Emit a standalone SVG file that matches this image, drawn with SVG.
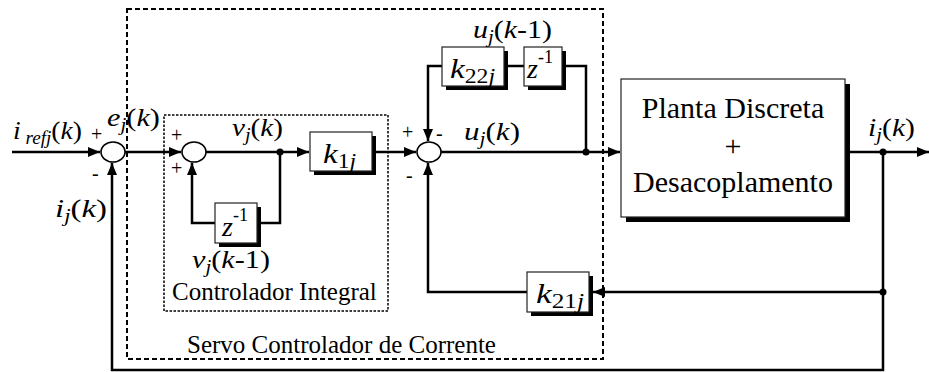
<svg xmlns="http://www.w3.org/2000/svg" width="929" height="372" viewBox="0 0 929 372">
<defs>
<style>
text{font-family:"Liberation Serif","Times New Roman",serif;fill:#000}
.lbl{font-size:26px}
.it{font-style:italic}
.sub{font-size:18px}
.sign{font-size:20px}
.cap{font-size:25px}
.plant{font-size:30px}
.wire{fill:none;stroke:#000;stroke-width:2.5}
.box{fill:#fff;stroke:#222;stroke-width:1.2}
.shadow{fill:#000}
.sum{fill:#fff;stroke:#000;stroke-width:1.6}
.dot{fill:#000}
</style>
<marker id="arr" viewBox="0 0 12 10" refX="12" refY="5" markerWidth="12" markerHeight="10" markerUnits="userSpaceOnUse" orient="auto">
<path d="M0,0 L12,5 L0,10 z" fill="#000"/>
</marker>
</defs>
<rect width="929" height="372" fill="#fff"/>

<g id="servo-frame">
<rect x="127" y="9" width="476" height="350" fill="none" stroke="#000" stroke-width="2" stroke-dasharray="5,3"/>
<text class="cap" x="187" y="353">Servo Controlador de Corrente</text>
</g>
<g id="integral-frame">
<rect x="164" y="115" width="224" height="196" fill="none" stroke="#000" stroke-width="1.5" stroke-dasharray="2.5,1.5"/>
<text class="cap" x="172" y="300">Controlador Integral</text>
</g>

<g id="connectors">
<path class="wire" d="M12,152 H100" marker-end="url(#arr)"/>
<path class="wire" d="M125,152 H181" marker-end="url(#arr)"/>
<path class="wire" d="M206,152 H309" marker-end="url(#arr)"/>
<path class="wire" d="M280,152 V223 H259"/>
<path class="wire" d="M215,223 H192 V163" marker-end="url(#arr)"/>
<path class="wire" d="M376,152 H416" marker-end="url(#arr)"/>
<path class="wire" d="M441,152 H620" marker-end="url(#arr)"/>
<path class="wire" d="M586,152 V66 H562"/>
<path class="wire" d="M524,66 H504"/>
<path class="wire" d="M442,66 H428 V141" marker-end="url(#arr)"/>
<path class="wire" d="M849,152 H929" marker-end="url(#arr)"/>
<path class="wire" d="M883,152 V370 H112 V163" marker-end="url(#arr)"/>
<path class="wire" d="M883,292 H593" marker-end="url(#arr)"/>
<path class="wire" d="M527,292 H428 V163" marker-end="url(#arr)"/>
<circle class="dot" cx="280" cy="152" r="3.5"/>
<circle class="dot" cx="586" cy="152" r="3.5"/>
<circle class="dot" cx="883" cy="152" r="3.5"/>
<circle class="dot" cx="883" cy="292" r="3.5"/>
</g>

<g id="input-label">
<text class="lbl" x="13" y="139" textLength="69" lengthAdjust="spacingAndGlyphs"><tspan class="it">i</tspan><tspan class="sub it" dy="5"> refj</tspan><tspan dy="-5">(</tspan><tspan class="it">k</tspan>)</text>
</g>

<g id="sum1">
<ellipse class="sum" cx="113" cy="152" rx="12" ry="10"/>
<text class="sign" x="91" y="141">+</text>
<text class="sign" x="92" y="180">-</text>
<text class="lbl" x="107" y="126" textLength="53" lengthAdjust="spacingAndGlyphs"><tspan class="it">e</tspan><tspan class="sub it" dy="5">j</tspan><tspan dy="-5">(</tspan><tspan class="it">k</tspan>)</text>
<text class="lbl" x="55" y="217" textLength="52" lengthAdjust="spacingAndGlyphs"><tspan class="it">i</tspan><tspan class="sub it" dy="5">j</tspan><tspan dy="-5">(</tspan><tspan class="it">k</tspan>)</text>
</g>

<g id="sum2">
<ellipse class="sum" cx="194" cy="152" rx="12" ry="10"/>
<text class="sign" x="171" y="142">+</text>
<text class="sign" x="171" y="175">+</text>
<text class="lbl" x="232" y="136" textLength="51" lengthAdjust="spacingAndGlyphs"><tspan class="it">v</tspan><tspan class="sub it" dy="5">j</tspan><tspan dy="-5">(</tspan><tspan class="it">k</tspan>)</text>
</g>

<g id="k1j">
<rect class="shadow" x="314" y="136" width="62" height="39"/>
<rect class="box" x="310" y="132" width="62" height="39"/>
<text class="lbl" x="323" y="163" textLength="33" lengthAdjust="spacingAndGlyphs" style="font-size:28px"><tspan class="it">k</tspan><tspan class="sub" dy="5" style="font-size:20px">1</tspan><tspan class="it" style="font-size:20px">j</tspan></text>
</g>

<g id="z-integral">
<rect class="shadow" x="219" y="207" width="42" height="40"/>
<rect class="box" x="215" y="203" width="42" height="40"/>
<text class="lbl" x="222" y="236"><tspan class="it" style="font-size:28px">z</tspan><tspan class="sub" dy="-15">-1</tspan></text>
<text class="lbl" x="192" y="268" textLength="78" lengthAdjust="spacingAndGlyphs"><tspan class="it">v</tspan><tspan class="sub it" dy="5">j</tspan><tspan dy="-5">(</tspan><tspan class="it">k</tspan>-1)</text>
</g>

<g id="sum3">
<ellipse class="sum" cx="429" cy="152" rx="12" ry="10"/>
<text class="sign" x="402" y="139">+</text>
<text class="sign" x="436" y="140">-</text>
<text class="sign" x="406" y="182">-</text>
<text class="lbl" x="464" y="140" textLength="56" lengthAdjust="spacingAndGlyphs"><tspan class="it">u</tspan><tspan class="sub it" dy="5">j</tspan><tspan dy="-5">(</tspan><tspan class="it">k</tspan>)</text>
</g>

<g id="k22j">
<rect class="shadow" x="446" y="51" width="62" height="39"/>
<rect class="box" x="442" y="47" width="62" height="39"/>
<text class="lbl" x="450" y="78" textLength="45" lengthAdjust="spacingAndGlyphs" style="font-size:28px"><tspan class="it">k</tspan><tspan class="sub" dy="5" style="font-size:20px">22</tspan><tspan class="it" style="font-size:20px">j</tspan></text>
</g>

<g id="z-top">
<rect class="shadow" x="528" y="51" width="38" height="39"/>
<rect class="box" x="524" y="47" width="38" height="39"/>
<text class="lbl" x="527" y="78"><tspan class="it" style="font-size:28px">z</tspan><tspan class="sub" dy="-15">-1</tspan></text>
<text class="lbl" x="473" y="38" textLength="79" lengthAdjust="spacingAndGlyphs"><tspan class="it">u</tspan><tspan class="sub it" dy="5">j</tspan><tspan dy="-5">(</tspan><tspan class="it">k</tspan>-1)</text>
</g>

<g id="plant">
<rect class="shadow" x="626" y="84" width="224" height="138"/>
<rect class="box" x="621" y="79" width="224" height="138"/>
<text class="plant" x="733" y="118" text-anchor="middle">Planta Discreta</text>
<text class="plant" x="733" y="156" text-anchor="middle">+</text>
<text class="plant" x="733" y="192" text-anchor="middle">Desacoplamento</text>
<text class="lbl" x="868" y="136" textLength="47" lengthAdjust="spacingAndGlyphs"><tspan class="it">i</tspan><tspan class="sub it" dy="5">j</tspan><tspan dy="-5">(</tspan><tspan class="it">k</tspan>)</text>
</g>

<g id="k21j">
<rect class="shadow" x="531" y="276" width="62" height="40"/>
<rect class="box" x="527" y="272" width="62" height="40"/>
<text class="lbl" x="536" y="303" textLength="48" lengthAdjust="spacingAndGlyphs" style="font-size:28px"><tspan class="it">k</tspan><tspan class="sub" dy="5" style="font-size:20px">21</tspan><tspan class="it" style="font-size:20px">j</tspan></text>
</g>
</svg>
